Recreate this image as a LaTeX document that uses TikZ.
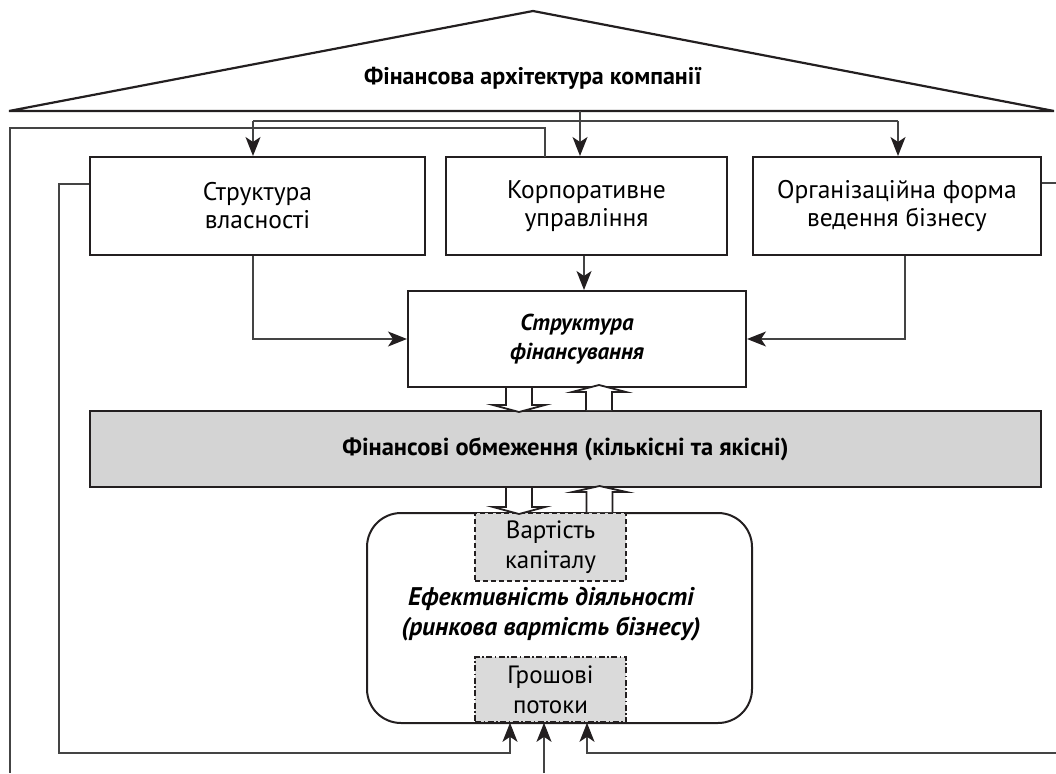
\documentclass[tikz,border=0pt]{standalone}
\usepackage{fontspec}
\setmainfont{PT Sans}
\usetikzlibrary{arrows.meta}
\definecolor{ink}{HTML}{231F20}
\definecolor{wire}{HTML}{444444}
\definecolor{band}{HTML}{D4D4D4}
\definecolor{boxgrey}{HTML}{DADADA}
\begin{document}
\begin{tikzpicture}[x=1pt,y=-1pt,
  blockbox/.style={draw=ink,line width=2pt,inner sep=0pt,align=center,fill=white,
    font=\fontsize{25.5}{28}\selectfont},
  dashbox/.style={draw=ink,line width=1.6pt,inner sep=0pt,align=center,fill=boxgrey,
    font=\fontsize{25}{30}\selectfont},
  wire/.style={draw=wire,line width=1.4pt},
  wirearrow/.style={wire,-{Stealth[length=19pt,width=15pt,inset=5pt,color=ink]}},
  blk/.style={draw=ink,line width=1.8pt,fill=white,line join=miter},
  titletext/.style={font=\fontsize{24}{26}\selectfont\bfseries}]
\useasboundingbox (0,0) rectangle (1056,773);

% roof
\draw[draw=ink,line width=2.2pt,line join=miter] (9,111) -- (533,11) -- (1054,111) -- cycle;
\node[titletext] (title) at (533,78) {Фінансова архітектура компанії};

% top boxes
\node[blockbox,minimum width=335pt,minimum height=98pt] (own) at (257.5,206) {Структура\\власності};
\node[blockbox,minimum width=281pt,minimum height=98pt] (corp) at (586.5,206) {Корпоративне\\управління};
\node[blockbox,minimum width=288pt,minimum height=98pt] (org) at (897,206) {Організаційна форма\\ведення бізнесу};

% financing
\node[blockbox,minimum width=338pt,minimum height=96pt,font=\fontsize{23}{29}\selectfont\bfseries\itshape] (fin) at (577,339) {Структура\\фінансування};

% constraints band
\node[blockbox,fill=band,minimum width=951pt,minimum height=76pt,font=\fontsize{24.5}{26}\selectfont\bfseries] (con) at (565.5,449) {Фінансові обмеження (кількісні та якісні)};

% efficiency
\node[draw=ink,line width=2pt,rounded corners=34pt,minimum width=385pt,minimum height=210pt,inner sep=0pt] (eff) at (559.5,618) {};
\node[align=center,inner sep=0pt,font=\fontsize{25.5}{30}\selectfont\bfseries\itshape] (efftext) at (551,614) {Ефективність діяльності\\(ринкова вартість бізнесу)};
\node[dashbox,dash pattern=on 5pt off 3pt,minimum width=151pt,minimum height=68pt] (cap) at (550.5,547) {Вартість\\капіталу};
\node[dashbox,dash pattern=on 6pt off 2.5pt on 1.5pt off 2.5pt,minimum width=151pt,minimum height=65pt] (cash) at (550.5,689.5) {Грошові\\потоки};

% top distribution
\coordinate (rb) at (580,111);
\coordinate (tl) at (253,121);
\coordinate (tr) at (898,121);
\draw[wire] (tl) -- (tr);
\draw[wirearrow] (rb) -- (rb |- corp.north);
\draw[wirearrow] (tl) -- (tl |- own.north);
\draw[wirearrow] (tr) -- (tr |- org.north);

% outer loop from corporate governance
\coordinate (co) at (545,157);
\coordinate (ol) at (10,128);
\coordinate (ob) at (10,773);
\draw[wire] (co) |- (ol) -- (ob);
\coordinate (mb) at (544,773);
\draw[wirearrow] (mb) -- (mb |- cash.south);

% inner left loop
\coordinate (ll) at (59,753);
\draw[wirearrow] ([yshift=22pt]own.west) -| (ll) -| ([xshift=-40.5pt]cash.south);

% right loop
\coordinate (re) at (1056,183);
\draw[wire] ([yshift=23pt]org.east) -- (re);
\coordinate (rr) at (1056,753);
\draw[wirearrow] (rr) -| ([xshift=36.5pt]cash.south);

% to financing
\draw[wirearrow] ([xshift=-4.5pt]own.south) |- (fin.west);
\draw[wirearrow] ([xshift=8pt]org.south) |- (fin.east);
\coordinate (c1) at ([xshift=-2.5pt]corp.south);
\draw[wirearrow] (c1) -- (c1 |- fin.north);

% block arrows fin <-> con
\draw[blk] ([xshift=-71pt]fin.south) -- ++(0,17) -- ++(-13,0) -- ++(26,7) -- ++(26,-7) -- ++(-13,0) -- ++(0,-17);
\draw[blk] ([xshift=20.5pt]con.north) -- ++(0,-18) -- ++(-14,0) -- ++(27,-7) -- ++(27,7) -- ++(-14,0) -- ++(0,18);
% block arrows con <-> eff
\draw[blk] ([xshift=-59.5pt]con.south) -- ++(0,19) -- ++(-13,0) -- ++(26,7) -- ++(26,-7) -- ++(-13,0) -- ++(0,-19);
\draw[blk] ([xshift=27pt]eff.north) -- ++(0,-20) -- ++(-14,0) -- ++(27,-6) -- ++(27,6) -- ++(-14,0) -- ++(0,20);
\end{tikzpicture}
\end{document}
